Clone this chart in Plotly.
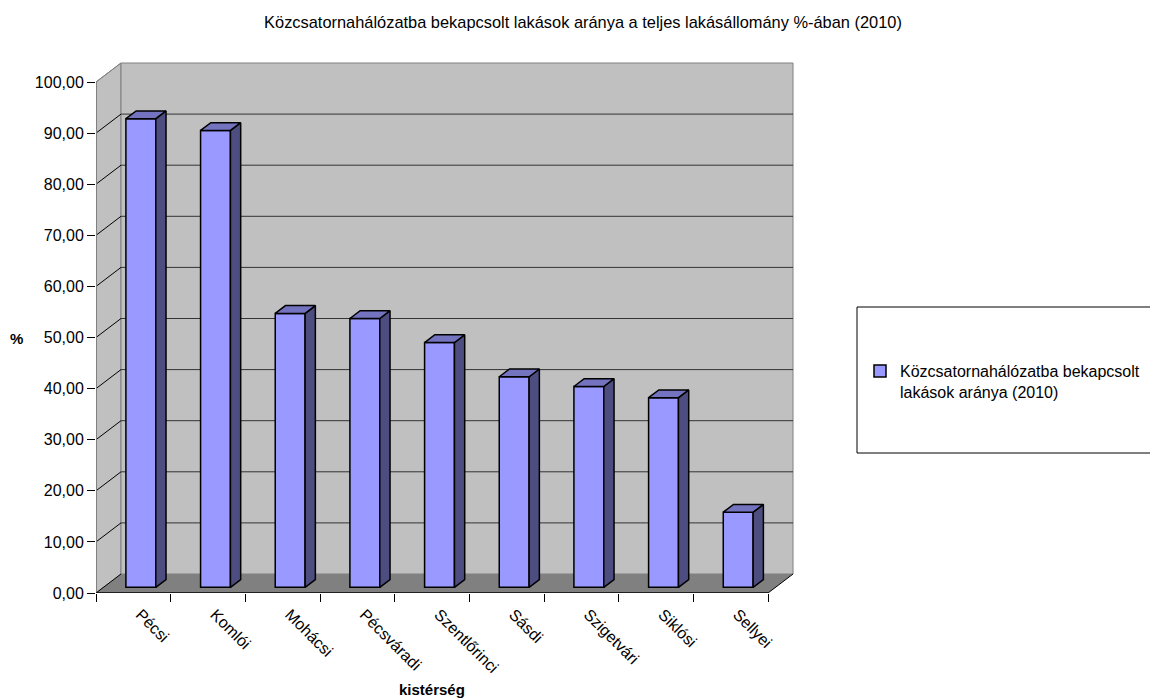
import plotly.graph_objects as go

# ---------------- data ----------------
categories = ["Pécsi", "Komlói", "Mohácsi", "Pécsváradi", "Szentlőrinci",
              "Sásdi", "Szigetvári", "Siklósi", "Sellyei"]
values = [91.7, 89.4, 53.6, 52.6, 47.9, 41.2, 39.3, 37.1, 14.7]
y_tick_values = [0, 10, 20, 30, 40, 50, 60, 70, 80, 90, 100]
y_tick_labels = ["0,00", "10,00", "20,00", "30,00", "40,00", "50,00",
                 "60,00", "70,00", "80,00", "90,00", "100,00"]
series_name = "Közcsatornahálózatba bekapcsolt<br>lakások aránya (2010)"
chart_title = "Közcsatornahálózatba bekapcsolt lakások aránya a teljes lakásállomány %-ában (2010)"
x_title = "kistérség"
y_title = "%"

# ---------------- style / geometry ----------------
FONT = "Liberation Sans, Arial, sans-serif"
OFF = 8                      # default body margin of the html page
PAGE_W, PAGE_H = 1158, 700
W, H = PAGE_W - OFF, PAGE_H - OFF
# plot area in page pixels
P_LEFT, P_RIGHT, P_TOP, P_BOTTOM = 96, 796, 60, 593
ML = P_LEFT - OFF
MT = P_TOP - OFF
MR = W - (P_RIGHT - OFF)
MB = H - (P_BOTTOM - OFF)
PW = P_RIGHT - P_LEFT
PH = P_BOTTOM - P_TOP
PX_PER_CAT = 74.67
PX_PER_UNIT = 5.11
X_MAX = PW / PX_PER_CAT
Y_MAX = PH / PX_PER_UNIT
DX = 25 / PX_PER_CAT      # depth offset (category units)
DY = 19 / PX_PER_UNIT     # depth offset (value units)
F0, F1 = 0.30, 0.71       # bar depth start/end fraction
BAR_W = 0.40
N = len(categories)
VMAX = y_tick_values[-1]


def px_x(px):
    return (px - P_LEFT) / PW


def px_y(py):
    return (P_BOTTOM - py) / PH


FRONT = "#9999FF"
SIDE = "#4D4D80"
TOP = "#7373BF"
WALL = "#C0C0C0"
FLOOR = "#808080"
EDGE = "#808080"
GRID = "#333333"

fig = go.Figure()

shapes = []
# left wall
shapes.append(dict(type="path", xref="x", yref="y", layer="below",
                   path=f"M 0 0 L {DX} {DY} L {DX} {VMAX+DY} L 0 {VMAX} Z",
                   fillcolor=WALL, line=dict(color=EDGE, width=1)))
# back wall
shapes.append(dict(type="rect", xref="x", yref="y", layer="below",
                   x0=DX, y0=DY, x1=N + DX, y1=VMAX + DY,
                   fillcolor=WALL, line=dict(color=EDGE, width=1)))
# floor
shapes.append(dict(type="path", xref="x", yref="y", layer="below",
                   path=f"M 0 0 L {N} 0 L {N+DX} {DY} L {DX} {DY} Z",
                   fillcolor=FLOOR, line=dict(color=FLOOR, width=0)))
# grid lines on back wall + diagonals on left wall
for v in y_tick_values[1:-1]:
    shapes.append(dict(type="line", xref="x", yref="y", layer="below",
                       x0=DX, y0=v + DY, x1=N + DX, y1=v + DY,
                       line=dict(color=GRID, width=1)))
for v in y_tick_values[:-1]:
    shapes.append(dict(type="line", xref="x", yref="y", layer="below",
                       x0=0, y0=v, x1=DX, y1=v + DY,
                       line=dict(color="#000000", width=1)))
shapes.append(dict(type="line", xref="x", yref="y", layer="below",
                   x0=0, y0=VMAX, x1=DX, y1=VMAX + DY,
                   line=dict(color=EDGE, width=1)))
# front axis lines
shapes.append(dict(type="line", xref="x", yref="y",
                   x0=0, y0=0, x1=0, y1=VMAX, line=dict(color=EDGE, width=2)))
shapes.append(dict(type="line", xref="x", yref="y",
                   x0=0, y0=0, x1=N, y1=0, line=dict(color="#000000", width=1.5)))
shapes.append(dict(type="line", xref="x", yref="y",
                   x0=N, y0=0, x1=N + DX, y1=DY, line=dict(color="#000000", width=1)))

# legend box
shapes.append(dict(type="rect", xref="paper", yref="paper",
                   x0=px_x(857), x1=px_x(1170), y0=px_y(453), y1=px_y(307),
                   line=dict(color="#000000", width=1), fillcolor="rgba(0,0,0,0)"))

# front faces of bars
xs_front = [i + 0.5 + F0 * DX for i in range(N)]
fig.add_trace(go.Bar(
    x=xs_front, y=values, base=F0 * DY, width=BAR_W,
    marker=dict(color=FRONT, line=dict(color="#000000", width=1.5)),
    name=series_name, showlegend=True, hoverinfo="skip"))

# side and top faces
ddx = (F1 - F0) * DX
ddy = (F1 - F0) * DY
for i, v in enumerate(values):
    xl = xs_front[i] - BAR_W / 2
    xr = xs_front[i] + BAR_W / 2
    b = F0 * DY
    t = b + v
    fig.add_trace(go.Scatter(
        x=[xr, xr + ddx, xr + ddx, xr, xr],
        y=[b, b + ddy, t + ddy, t, b],
        fill="toself", fillcolor=SIDE, mode="lines",
        line=dict(color="#000000", width=1.5),
        showlegend=False, hoverinfo="skip"))
    fig.add_trace(go.Scatter(
        x=[xl, xl + ddx, xr + ddx, xr, xl],
        y=[t, t + ddy, t + ddy, t, t],
        fill="toself", fillcolor=TOP, mode="lines",
        line=dict(color="#000000", width=1.5),
        showlegend=False, hoverinfo="skip"))

annotations = [
    dict(text=f"<b>{y_title}</b>", xref="paper", yref="paper",
         x=px_x(16), y=px_y(338), xanchor="center", yanchor="middle",
         showarrow=False, font=dict(size=15, color="#000000", family=FONT)),
    dict(text=f"<b>{x_title}</b>", xref="paper", yref="paper",
         x=px_x(432), y=px_y(689), xanchor="center", yanchor="middle",
         showarrow=False, font=dict(size=15, color="#000000", family=FONT)),
]

fig.update_layout(
    width=W, height=H,
    margin=dict(l=ML, r=MR, t=MT, b=MB),
    paper_bgcolor="#FFFFFF", plot_bgcolor="rgba(0,0,0,0)",
    font=dict(family=FONT, color="#000000", size=16),
    title=dict(text=chart_title, x=0.5, xanchor="center",
               y=1 - (22 - OFF) / H, yanchor="middle",
               font=dict(size=16.4, family=FONT, color="#000000")),
    shapes=shapes, annotations=annotations,
    barmode="overlay",
    showlegend=True,
    legend=dict(x=px_x(860), y=px_y(354),
                xanchor="left", yanchor="top", bgcolor="rgba(0,0,0,0)",
                borderwidth=0, valign="top",
                font=dict(size=16, family=FONT, color="#000000")),
    xaxis=dict(range=[0, X_MAX], showgrid=False, zeroline=False, showline=False,
               tickmode="array", tickvals=[i + 0.5 for i in range(N)], ticktext=categories,
               ticks="", tickangle=45, tickfont=dict(size=16),
               ticklabelstandoff=8, ticklabelshift=7,
               minor=dict(ticks="outside", tickmode="array", tickvals=list(range(N + 1)),
                          ticklen=8, tickcolor="#000000", tickwidth=1, showgrid=False),
               fixedrange=True),
    yaxis=dict(range=[0, Y_MAX], showgrid=False, zeroline=False, showline=False,
               tickmode="array", tickvals=y_tick_values, ticktext=y_tick_labels,
               ticks="outside", ticklen=8, tickcolor="#000000", tickwidth=1,
               tickfont=dict(size=16), fixedrange=True),
)

fig.write_html("out.html")
